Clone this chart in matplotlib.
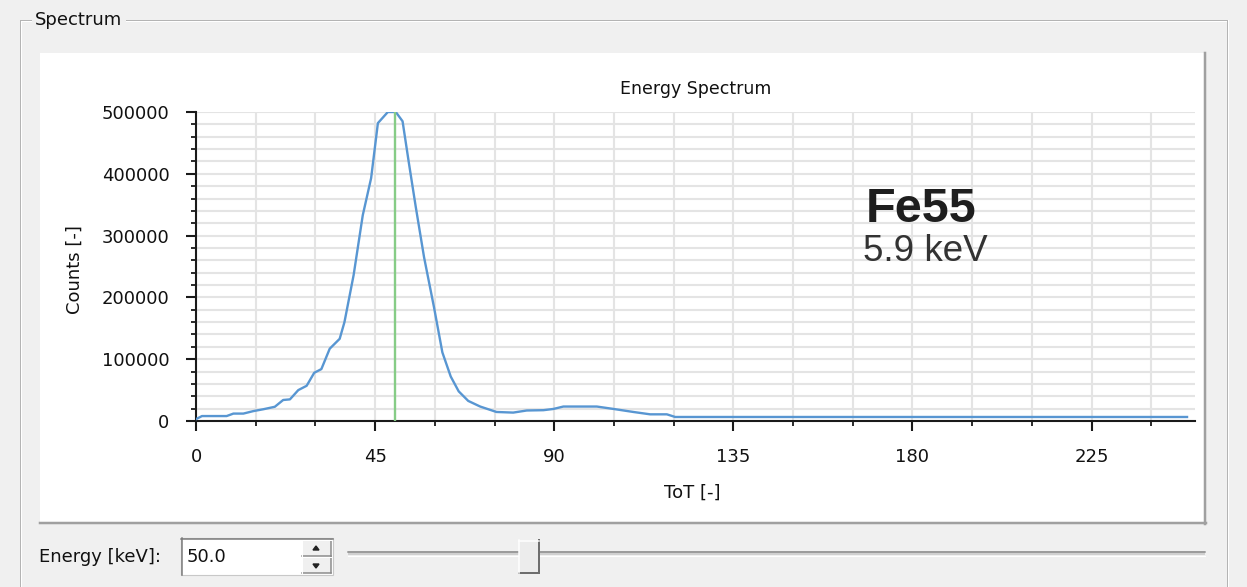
import matplotlib
matplotlib.use("Agg")
import matplotlib.pyplot as plt
from matplotlib.patches import Rectangle, Polygon
from matplotlib.lines import Line2D
from matplotlib.ticker import MultipleLocator, StrMethodFormatter

# energy spectrum: ToT bin -> counts
tot = [0, 1.5, 7.7, 9.4, 11.9, 14.4, 16.9, 19.8, 21.9, 23.6,
       25.7, 27.8, 29.7, 31.5, 33.6, 36.1, 37.3, 39.6, 41.9, 44.0,
       45.7, 48.2, 50.2, 51.9, 53.5, 55.2, 57.3, 59.8, 61.9, 64.0,
       66.0, 68.4, 71.4, 75.5, 79.7, 83.1, 87.3, 89.8, 92.3, 100.7,
       104.9, 109.9, 114.1, 118.3, 120.4, 249.0]
counts = [3000, 8000, 8000, 12000, 12000, 16000, 19000, 23000, 34000, 35000,
          50000, 57000, 78000, 84000, 117000, 133000, 160000, 236000, 333000, 393000,
          482000, 500000, 500000, 485000, 417000, 347000, 265000, 184000, 111000, 72000,
          48000, 32500, 23400, 14600, 13600, 17000, 17500, 19500, 23400, 23400,
          19500, 14600, 10800, 10800, 6500, 6500]

x_ticks = [0, 45, 90, 135, 180, 225]
energy_value = 50.0          # selected energy, also the marker position
slider_range = (0.0, 245.0)
source_name = "Fe55"
source_line = "5.9 keV"

W, H = 1247, 587
GUI_FONT = 13

fig = plt.figure(figsize=(W / 100, H / 100), dpi=100, facecolor="#f0f0f0")


# helpers working in screen pixels (origin top-left)
def fx(x):
    return x / W


def fy(y):
    return 1 - y / H


def hline(x0, x1, y, color, lw=1.0, z=1):
    fig.add_artist(Line2D([fx(x0), fx(x1)], [fy(y), fy(y)], color=color,
                          lw=lw * 0.72, transform=fig.transFigure, zorder=z))


def vline(x, y0, y1, color, lw=1.0, z=1):
    fig.add_artist(Line2D([fx(x), fx(x)], [fy(y0), fy(y1)], color=color,
                          lw=lw * 0.72, transform=fig.transFigure, zorder=z))


def box(x0, y0, x1, y1, z=1, **kw):
    fig.add_artist(Rectangle((fx(x0), fy(y1)), fx(x1) - fx(x0), fy(y0) - fy(y1),
                             transform=fig.transFigure, zorder=z, **kw))


# group box "Spectrum"
for off, col in [(0, "#b4b4b4"), (1, "#ffffff")]:
    hline(20 + off, 31, 20 + off, col)
    hline(126, 1228 - off, 20 + off, col)
    vline(20 + off, 20 + off, 587, col)
vline(1227, 20, 587, "#b4b4b4")
vline(1228, 20, 587, "#ffffff")
fig.text(fx(35), fy(20), "Spectrum", fontsize=GUI_FONT, ha="left", va="center",
         color="#111111")

# white chart panel with its shadow edge
box(40, 53, 1206, 524, z=-5, facecolor="white", edgecolor="none")
hline(40, 1206, 523, "#a0a0a0", lw=2.5, z=-4)
vline(1205, 53, 524, "#a0a0a0", lw=2.5, z=-4)

# spectrum plot
ax = fig.add_axes([fx(196), fy(421), (1195 - 196) / W, (421 - 112) / H])
ax.set_facecolor("white")
ax.plot(tot, counts, color="#5896d2", lw=1.7, zorder=3)
ax.axvline(energy_value, color="#86cc86", lw=1.7, zorder=4)

ax.set_xlim(0, 251)
ax.set_ylim(0, 500000)
ax.set_xticks(x_ticks)
ax.xaxis.set_minor_locator(MultipleLocator(15))
ax.yaxis.set_major_locator(MultipleLocator(100000))
ax.yaxis.set_minor_locator(MultipleLocator(20000))
ax.yaxis.set_major_formatter(StrMethodFormatter("{x:.0f}"))

ax.grid(which="both", color="#e4e4e4", lw=1.5)
ax.set_axisbelow(True)
for side in ["top", "right"]:
    ax.spines[side].set_visible(False)
for side in ["left", "bottom"]:
    ax.spines[side].set_linewidth(1.5)
    ax.spines[side].set_color("#1a1a1a")
ax.tick_params(which="major", length=7.2, width=1.5, pad=12, labelsize=GUI_FONT,
               color="#1a1a1a", labelcolor="#111111")
ax.tick_params(which="minor", length=3.6, width=1.3, color="#1a1a1a")

ax.set_title("Energy Spectrum", fontsize=12.5, pad=13, color="#111111")
ax.set_xlabel("ToT [-]", fontsize=GUI_FONT, color="#111111")
ax.set_ylabel("Counts [-]", fontsize=GUI_FONT, color="#111111")
ax.xaxis.set_label_coords(0.497, -0.204)
ax.yaxis.set_label_coords(-0.112, 0.49)

# source annotation
fig.text(fx(921.5), fy(222), source_name, fontsize=35, fontweight="bold",
         family="Liberation Sans", ha="center", va="baseline", color="#1e1e1e")
fig.text(fx(925.5), fy(261), source_line, fontsize=26.5, family="Liberation Sans",
         ha="center", va="baseline", color="#333333")

# energy spin box
fig.text(fx(39), fy(557), "Energy [keV]:", fontsize=GUI_FONT, ha="left", va="center",
         color="#111111")
box(181, 538, 333, 575, facecolor="white", edgecolor="#c8c8c8", lw=0.8)
hline(181, 333, 538.5, "#7a7a7a", lw=1.5)
vline(181.5, 538, 575, "#7a7a7a", lw=1.5)
fig.text(fx(187), fy(557), f"{energy_value:.1f}", fontsize=GUI_FONT, ha="left",
         va="center", color="#111111")
for y0, y1 in [(540, 556), (557, 573)]:
    box(302, y0, 331, y1, facecolor="#f0f0f0", edgecolor="none")
    hline(302, 331, y1, "#8a8a8a", lw=1.5)
    vline(331, y0, y1, "#8a8a8a", lw=1.5)
    hline(302, 331, y0, "#ffffff", lw=1)
    vline(302, y0, y1, "#ffffff", lw=1)
fig.add_artist(Polygon([[fx(313), fy(550)], [fx(319), fy(550)], [fx(316), fy(546)]],
                       closed=True, transform=fig.transFigure, color="#222222"))
fig.add_artist(Polygon([[fx(313), fy(564)], [fx(319), fy(564)], [fx(316), fy(568)]],
                       closed=True, transform=fig.transFigure, color="#222222"))

# energy slider
gx0, gx1 = 348, 1205
box(gx0, 551, gx1, 555, facecolor="#d0d0d0", edgecolor="none")
hline(gx0, gx1, 551.5, "#8c8c8c", lw=1.5)
hline(gx0, gx1, 555.5, "#ffffff", lw=1)
frac = (energy_value - slider_range[0]) / (slider_range[1] - slider_range[0])
hc = gx0 + 10 + frac * (gx1 - gx0 - 20)
box(hc - 10, 540, hc + 10, 573, facecolor="#ececec", edgecolor="none")
hline(hc - 10, hc + 10, 573, "#6e6e6e", lw=2)
vline(hc + 10, 540, 573, "#6e6e6e", lw=2)
hline(hc - 10, hc + 10, 540.5, "#ffffff", lw=1.5)
vline(hc - 9.5, 540, 573, "#ffffff", lw=1.5)

fig.savefig("out.png", dpi=100, facecolor=fig.get_facecolor())
